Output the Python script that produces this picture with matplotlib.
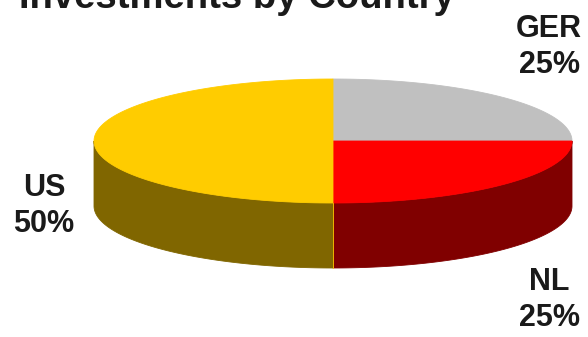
import numpy as np
import matplotlib
matplotlib.use("Agg")
from matplotlib import pyplot as plt
from matplotlib.patches import Polygon

# Data (clockwise from 12 o'clock, like the spreadsheet pie)
countries = ["GER", "NL", "US"]
shares = [25, 25, 50]
top_colors = ["#C0C0C0", "#FF0000", "#FFCC00"]
side_colors = ["#606060", "#800000", "#806600"]
title = "Investments by Country"

plt.rcParams['font.family'] = ['Liberation Sans', 'DejaVu Sans']

fig = plt.figure(figsize=(5.88, 3.37), dpi=100)
ax = fig.add_axes([0, 0, 1, 1])
ax.set_xlim(0, 588)
ax.set_ylim(337, 0)
ax.axis('off')

# pie geometry in pixels
cx, cy = 333, 141
a, b = 239, 62
depth = 65


def rim(t1, t2, n=120):
    t = np.radians(np.linspace(t1, t2, n))
    return cx + a * np.cos(t), cy - b * np.sin(t)


total = float(sum(shares))
starts = []
ang = 90.0
for s in shares:
    sweep = 360.0 * s / total
    starts.append((ang - sweep, ang))
    ang -= sweep

# side walls (front half only: angles in (-180, 0) mod 360)
for (lo, hi), col in zip(starts, side_colors):
    for k in (-1, 0, 1):
        f_lo, f_hi = -180 + 360 * k, 0 + 360 * k
        s_lo, s_hi = max(lo, f_lo), min(hi, f_hi)
        if s_hi - s_lo <= 0:
            continue
        x, y = rim(s_lo, s_hi)
        pts = np.column_stack([np.r_[x, x[::-1]], np.r_[y, y[::-1] + depth]])
        ax.add_patch(Polygon(pts, closed=True, facecolor=col, edgecolor=col, lw=0.6))

# top faces
for (lo, hi), col in zip(starts, top_colors):
    x, y = rim(lo, hi)
    pts = np.column_stack([np.r_[cx, x], np.r_[cy, y]])
    ax.add_patch(Polygon(pts, closed=True, facecolor=col, edgecolor=col, lw=0.6))

# thin yellow seam on the US side wall
ax.plot([cx, cx], [cy + b, cy + b + depth], color="#FFCC00", lw=0.6)

# labels
label_pos = {"GER": (549, 47), "NL": (549, 300), "US": (44, 206)}
for name, s in zip(countries, shares):
    lx, ly = label_pos[name]
    ax.text(lx, ly, "%s\n%d%%" % (name, round(100 * s / total)), ha='center', va='center',
            fontsize=22, fontweight='bold', color="#1a1a1a", linespacing=1.3)

ax.text(19, 8, title, ha='left', va='baseline', fontsize=27.5,
        fontweight='bold', color="#1a1a1a")

fig.savefig("out.png", dpi=100)
